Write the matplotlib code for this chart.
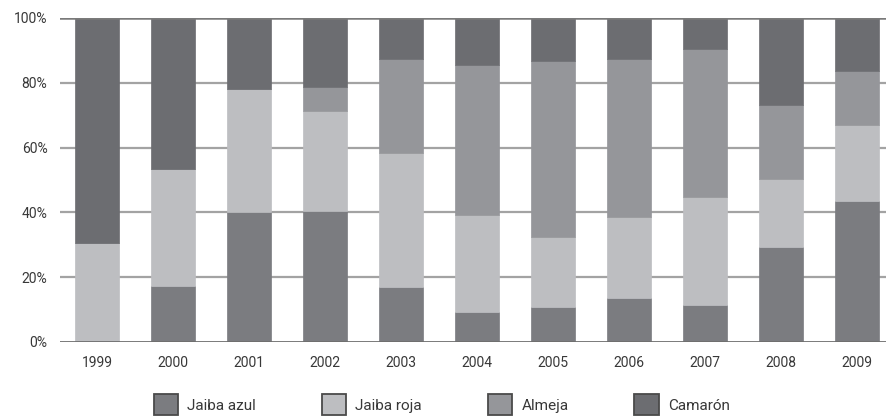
import numpy as np
import matplotlib
matplotlib.use("Agg")
import matplotlib.pyplot as plt
from matplotlib.patches import Patch

# =========================
# DATA (% of catch per year)
# =========================

years = ["1999", "2000", "2001", "2002", "2003", "2004",
         "2005", "2006", "2007", "2008", "2009"]

jaiba_azul = [0.0, 17.4, 40.2, 40.3, 16.9, 9.4, 10.7, 13.7, 11.3, 29.2, 43.4]
jaiba_roja = [30.4, 36.0, 37.9, 31.0, 41.3, 29.7, 21.6, 24.8, 33.4, 21.0, 23.5]
almeja = [0.0, 0.0, 0.0, 7.3, 29.0, 46.3, 54.3, 48.7, 45.6, 22.9, 16.6]
camaron = [69.6, 46.6, 21.9, 21.4, 12.8, 14.6, 13.4, 12.8, 9.7, 26.9, 16.5]

series_names = ["Jaiba azul", "Jaiba roja", "Almeja", "Camarón"]
colors = ["#7b7c80", "#bdbec1", "#95969a", "#6c6d71"]

plt.rcParams["font.family"] = ["Roboto", "DejaVu Sans"]

# =========================
# FIGURE
# =========================

fig = plt.figure(figsize=(8.87, 4.19), dpi=100)
ax = fig.add_axes([0.0676, 0.1838, 0.9324, 0.7733])

x = np.arange(len(years))
bottom = np.zeros(len(years))

for values, color in zip([jaiba_azul, jaiba_roja, almeja, camaron], colors):
    ax.bar(x, values, width=0.58, bottom=bottom, color=color,
           edgecolor=color, linewidth=0.5, zorder=3)
    bottom += np.array(values)

ax.set_xlim(-0.487, 10.39)
ax.set_ylim(0, 100)

ax.set_yticks([0, 20, 40, 60, 80, 100])
ax.set_yticklabels(["0%", "20%", "40%", "60%", "80%", "100%"])
ax.set_xticks(x)
ax.set_xticklabels(years)

ax.tick_params(length=0, labelsize=10, labelcolor="#383838")
ax.tick_params(axis="y", pad=9)
ax.tick_params(axis="x", pad=10)

for y in [20, 40, 60, 80]:
    ax.axhline(y, color="#a3a3a3", linewidth=1.6, zorder=1)
ax.axhline(0, color="#6e6e6e", linewidth=2.0, zorder=4)
ax.axhline(100, color="#7a7a7a", linewidth=1.8, zorder=4)

for side in ["top", "right", "bottom", "left"]:
    ax.spines[side].set_visible(False)

# =========================
# LEGEND
# =========================

handles = [Patch(facecolor=c, edgecolor="#4a4a4a", linewidth=1.3) for c in colors]
fig.legend(handles, series_names, loc="center", ncol=4,
           bbox_to_anchor=(0.498, 0.034), frameon=False,
           fontsize=11, handlelength=1.6, handleheight=1.75,
           handletextpad=0.6, columnspacing=4.3, labelcolor="#383838")

fig.savefig("out.png", dpi=100)
